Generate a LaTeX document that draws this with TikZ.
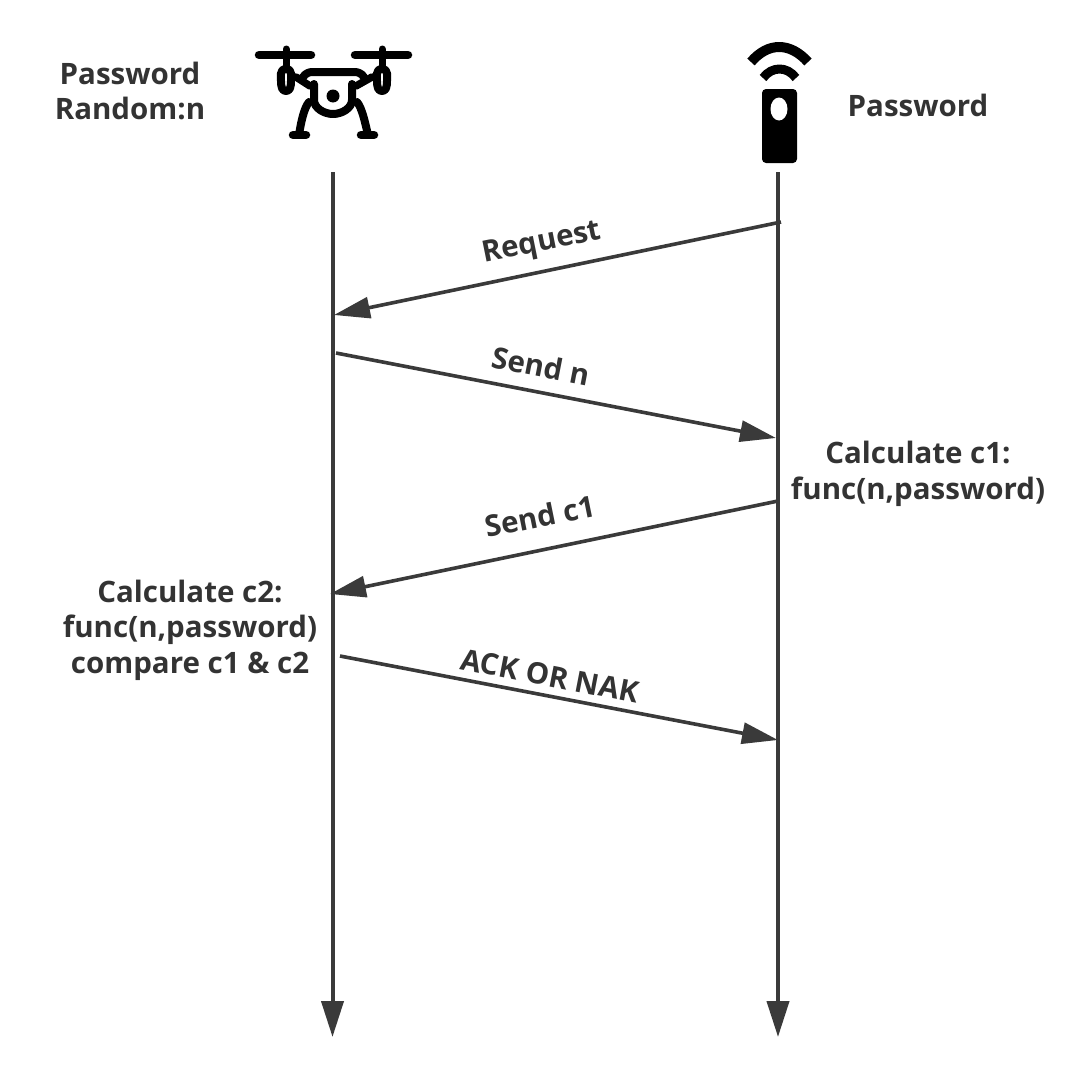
\documentclass[tikz,border=0pt]{standalone}
\usepackage{fontspec}
\setmainfont{Open Sans}
\usetikzlibrary{arrows.meta}
\definecolor{ink}{HTML}{3A3A3A}
\definecolor{txt}{HTML}{333333}
\tikzset{
  life/.style={draw=ink,line width=4pt,-{Triangle[length=36pt,width=22pt]}},
  msg/.style={draw=ink,line width=3.6pt,-{Triangle[length=36pt,width=21pt]}},
  lab/.style={text=txt,font=\fontsize{29.5}{35.5}\selectfont\bfseries,align=center,inner sep=0pt},
  icon/.style={draw=black,line cap=round,line join=round},
}
\begin{document}
\begin{tikzpicture}[x=1pt,y=-1pt]
\useasboundingbox (0,0) rectangle (1090,1076);
\fill[white] (0,0) rectangle (1090,1076);
% lifelines
\coordinate (lt) at (332.5,172); \coordinate (lb) at (332.5,1037);
\coordinate (rt) at (778,172); \coordinate (rb) at (778,1037);
\draw[life] (lt) -- (lb);
\draw[life] (rt) -- (rb);
% messages
\coordinate (a1) at (781,222); \coordinate (a2) at (334,315);
\coordinate (b1) at (336,353); \coordinate (b2) at (776,438);
\coordinate (c1) at (778,501); \coordinate (c2) at (330,594);
\coordinate (d1) at (340,656); \coordinate (d2) at (778,740);
\draw[msg] (a1) -- (a2);
\draw[msg] (b1) -- (b2);
\draw[msg] (c1) -- (c2);
\draw[msg] (d1) -- (d2);
% labels
\node[lab] (pl) at (130,91) {Password\\Random:n};
\node[lab] (pr) at (918,105) {Password};
\node[lab,rotate=11.5] (l1) at (542,244) {Request};
\node[lab,rotate=-11] (l2) at (541,366) {Send n};
\node[lab,rotate=11.5] (l3) at (540,516) {Send c1};
\node[lab,rotate=-11] (l4) at (550,676) {ACK OR NAK};
\node[lab] (n1) at (918,474) {Calculate c1:\\func(n,password)};
\node[lab] (n2) at (190,630) {Calculate c2:\\func(n,password)\\compare c1 \& c2};
% drone
\begin{scope}[icon,line width=8.5pt]
\draw (259,55) -- (311,55);
\draw (355,55) -- (408,55);
\draw[line width=7pt] (286,49) -- (286,68);
\draw[line width=7pt] (382,49) -- (382,68);
\draw[line width=8pt] (286,69) .. controls (279,69) and (281,78) .. (281,81) .. controls (281,87) and (282,91) .. (286,91) .. controls (290,91) and (291,87) .. (291,81) .. controls (291,78) and (293,69) .. (286,69) -- cycle;
\draw[line width=8pt] (382,69) .. controls (375,69) and (377,78) .. (377,81) .. controls (377,87) and (378,91) .. (382,91) .. controls (386,91) and (387,87) .. (387,81) .. controls (387,78) and (389,69) .. (382,69) -- cycle;
\draw[line width=7.5pt] (296,77) -- (310,86);
\draw[line width=7.5pt] (372,77) -- (356,86);
\draw[line width=8pt] (303,77) .. controls (306,73) and (309,72) .. (313,72) -- (354,72) .. controls (358,72) and (361,73) .. (364,77);
\draw[line width=8pt] (314,84) -- (314,100) .. controls (314,108) and (324,114) .. (333,114) .. controls (342,114) and (352,108) .. (352,100) -- (352,84);
\draw[line width=8pt] (309,102) .. controls (304,108) and (301,122) .. (299,135);
\draw[line width=8pt] (357,102) .. controls (362,108) and (365,122) .. (368,135);
\draw (293,135) -- (306,135);
\draw (361,135) -- (374,135);
\end{scope}
\fill[black] (333,96) circle (6.5);
% remote
\fill[black,rounded corners=4pt] (762,89) rectangle (797,163);
\fill[white] (779,109) ellipse (8.5 and 11.5);
\draw[icon,line width=10pt,line cap=butt] (751,62) .. controls (768,42) and (790,42) .. (808,62);
\draw[icon,line width=9pt,line cap=butt] (763,78) .. controls (772,66) and (787,66) .. (796,78);
\end{tikzpicture}
\end{document}
